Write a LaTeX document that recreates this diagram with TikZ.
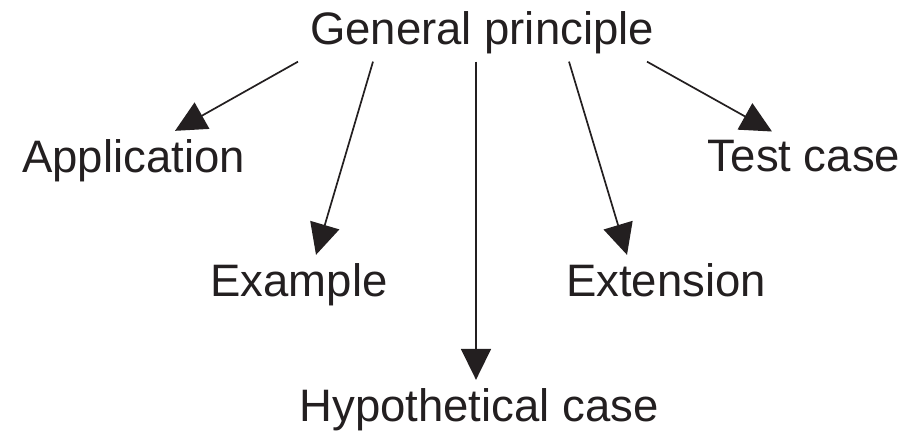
\documentclass[tikz,border=0pt]{standalone}
\usepackage{fontspec}
\setmainfont{Liberation Sans}
\usetikzlibrary{arrows.meta}
\definecolor{inkdark}{HTML}{231F20}

\begin{document}
\begin{tikzpicture}[x=1pt, y=-1pt,
    font=\fontsize{45.5}{54}\selectfont,
    word/.style={inner sep=8pt, anchor=base, text=inkdark},
    link/.style={draw=inkdark, line width=1.7pt,
      -{Triangle[length=31pt, width=30pt]}}]
  \useasboundingbox (0,0) rectangle (912,432);
  \node[word] (gp) at (482,44) {General principle};
  \node[word] (app) at (133.5,172) {Application};
  \node[word] (tc) at (804,171) {Test case};
  \node[word] (ex) at (299,296) {Example};
  \node[word] (ext) at (666,296) {Extension};
  \node[word] (hyp) at (479,421) {Hypothetical case};
  \draw[link] ([xshift=-184pt]gp.south) -- ([xshift=41.5pt]app.north);
  \draw[link] ([xshift=-109pt]gp.south) -- ([xshift=17pt]ex.north);
  \draw[link] ([xshift=-6pt]gp.south) -- ([xshift=-3pt]hyp.north);
  \draw[link] ([xshift=87pt]gp.south) -- ([xshift=-39pt]ext.north);
  \draw[link] ([xshift=165pt]gp.south) -- ([xshift=-32pt]tc.north);
\end{tikzpicture}
\end{document}
